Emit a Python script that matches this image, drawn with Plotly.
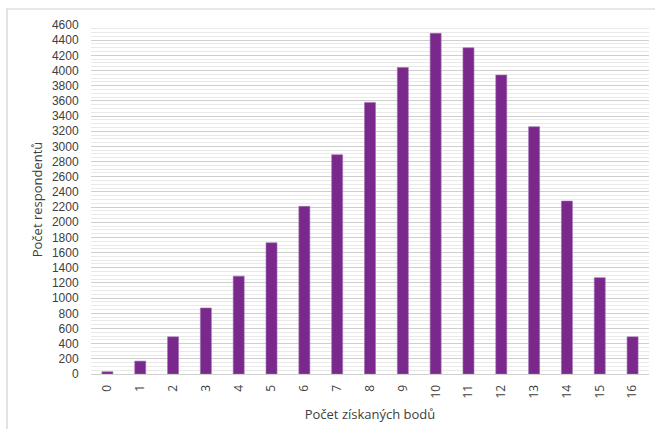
import plotly.graph_objects as go

# Points scored (0–16) and number of respondents for each score
body = [str(i) for i in range(17)]
respondenti = [30, 170, 490, 870, 1290, 1730, 2210, 2890, 3580, 4040,
               4490, 4300, 3940, 3260, 2280, 1270, 490]
y_ticks = list(range(0, 4601, 200))

BAR = "#7a288c"
FONT = "Open Sans"

fig = go.Figure(
    go.Bar(
        x=body,
        y=respondenti,
        marker=dict(color=BAR, line=dict(color="#a070b0", width=0.6)),
    )
)

fig.update_layout(
    width=655,
    height=429,
    margin=dict(l=91, r=6, t=25, b=55),
    paper_bgcolor="white",
    plot_bgcolor="white",
    bargap=0.665,
    showlegend=False,
    font=dict(family=FONT, color="#404040", size=12),
    shapes=[
        # outer chart frame
        dict(
            type="rect", xref="paper", yref="paper",
            x0=-0.1505, x1=1.05, y0=-0.2, y1=1.0458,
            line=dict(color="#d0d0d0", width=1.2),
            fillcolor="rgba(0,0,0,0)", layer="below",
        )
    ],
)

fig.update_xaxes(
    title=dict(text="Počet získaných bodů", font=dict(size=13, color="#404040"), standoff=12),
    tickangle=-90,
    tickfont=dict(size=12, color="#404040"),
    showline=True,
    linecolor="#d0d0d0",
    linewidth=1,
    ticks="outside",
    ticklen=5,
    tickcolor="rgba(0,0,0,0)",
    showgrid=False,
)

fig.update_yaxes(
    title=dict(text="Počet respondentů", font=dict(size=13, color="#404040"), standoff=6),
    range=[0, 4600],
    tickvals=y_ticks,
    ticktext=[str(v) for v in y_ticks],
    tickfont=dict(family="Liberation Sans", size=12, color="#404040"),
    ticks="outside",
    ticklen=9,
    tickcolor="rgba(0,0,0,0)",
    showgrid=True,
    gridcolor="#cfcfcf",
    gridwidth=1,
    zeroline=False,
    minor=dict(dtick=50, showgrid=True, gridcolor="#e9e9e9", gridwidth=1),
)

fig.write_html("out.html")
